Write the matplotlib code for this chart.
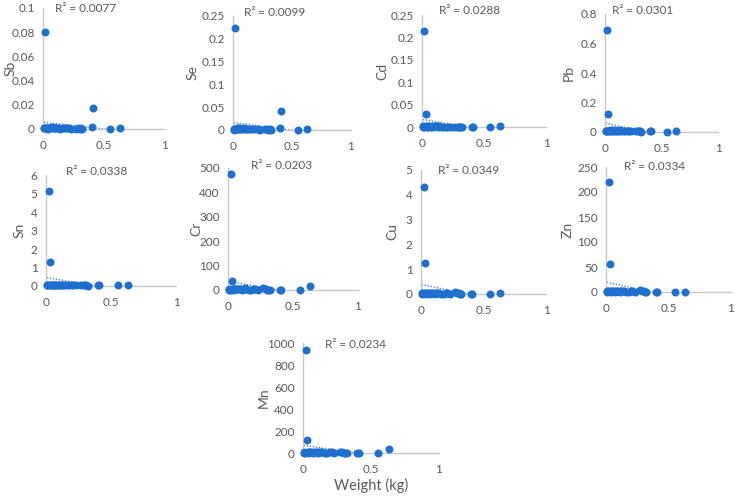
import numpy as np
import matplotlib
matplotlib.use("Agg")
import matplotlib.pyplot as plt
from matplotlib.ticker import FuncFormatter, MultipleLocator

plt.rcParams['font.family'] = ['Lato', 'DejaVu Sans']

# ---- data ----
weight = [0.005, 0.01, 0.015, 0.02, 0.03, 0.035, 0.04, 0.045, 0.05, 0.06, 0.07, 0.08,
          0.09, 0.10, 0.11, 0.12, 0.13, 0.14, 0.16, 0.18, 0.20, 0.21, 0.23, 0.27,
          0.29, 0.30, 0.31, 0.32, 0.40, 0.41, 0.55, 0.63]

Sb = [0.0005, 0.001, 0.0008, 0.080, 0.0006, 0.0012, 0.0004, 0.0009, 0.0011, 0.0007, 0.0013, 0.0005,
      0.0008, 0.0010, 0.0006, 0.0009, 0.0011, 0.0004, 0.0007, 0.0005, 0.0008, 0.0006, 0.0004, 0.0003,
      0.0005, 0.0004, 0.0006, 0.0003, 0.0015, 0.017, 0.0003, 0.0006]
Se = [0.001, 0.002, 0.0015, 0.223, 0.003, 0.004, 0.002, 0.0035, 0.003, 0.004, 0.0025, 0.003,
      0.004, 0.002, 0.003, 0.0025, 0.002, 0.003, 0.0015, 0.002, 0.002, 0.0015, 0.001, 0.002,
      0.0015, 0.001, 0.002, 0.001, 0.004, 0.042, 0.001, 0.0015]
Cd = [0.001, 0.0015, 0.001, 0.215, 0.030, 0.002, 0.001, 0.0015, 0.001, 0.002, 0.001, 0.0015,
      0.001, 0.0012, 0.002, 0.0015, 0.001, 0.002, 0.001, 0.0008, 0.001, 0.0009, 0.0008, 0.001,
      0.0008, 0.0006, 0.0008, 0.0005, 0.001, 0.0008, 0.0007, 0.002]
Pb = [0.005, 0.008, 0.006, 0.69, 0.12, 0.01, 0.006, 0.012, 0.008, 0.015, 0.006, 0.01,
      0.012, 0.008, 0.006, 0.01, 0.014, 0.008, 0.006, 0.004, 0.008, 0.006, 0.004, 0.01,
      0.008, 0.005, 0.004, 0.003, 0.004, 0.004, 0.003, 0.01]
Sn = [0.05, 0.08, 0.04, 5.15, 1.30, 0.06, 0.03, 0.07, 0.05, 0.08, 0.04, 0.06,
      0.07, 0.05, 0.04, 0.06, 0.08, 0.05, 0.04, 0.03, 0.05, 0.04, 0.03, 0.06,
      0.05, 0.04, 0.03, 0.02, 0.03, 0.04, 0.03, 0.05]
Cr = [2.0, 3.0, 1.5, 475.0, 38.0, 4.0, 2.0, 5.0, 3.0, 6.0, 2.5, 4.0,
      5.0, 3.0, 2.0, 4.0, 7.0, 3.0, 2.0, 1.5, 4.0, 3.0, 2.0, 8.0,
      3.0, 2.0, 1.5, 1.0, 1.0, 1.0, 0.5, 18.0]
Cu = [0.02, 0.04, 0.03, 4.30, 1.25, 0.03, 0.02, 0.04, 0.03, 0.05, 0.02, 0.03,
      0.04, 0.03, 0.02, 0.04, 0.05, 0.03, 0.02, 0.02, 0.05, 0.03, 0.02, 0.10,
      0.05, 0.03, 0.02, 0.01, 0.01, 0.01, 0.02, 0.03]
Zn = [1.0, 2.0, 1.5, 220.0, 57.0, 2.0, 1.0, 2.5, 1.5, 3.0, 1.0, 2.0,
      2.5, 1.5, 1.0, 2.0, 3.0, 1.5, 1.0, 1.0, 2.0, 1.5, 1.0, 5.0,
      2.5, 1.5, 1.0, 0.5, 0.5, 0.5, 0.5, 0.5]
Mn = [3.0, 5.0, 4.0, 935.0, 120.0, 6.0, 3.0, 8.0, 5.0, 9.0, 4.0, 6.0,
      7.0, 5.0, 4.0, 6.0, 10.0, 5.0, 4.0, 3.0, 6.0, 5.0, 3.0, 8.0,
      5.0, 4.0, 3.0, 2.0, 2.0, 2.0, 1.0, 35.0]

r2_labels = {"Sb": "0.0077", "Se": "0.0099", "Cd": "0.0288", "Pb": "0.0301",
             "Sn": "0.0338", "Cr": "0.0203", "Cu": "0.0349", "Zn": "0.0334", "Mn": "0.0234"}
series = {"Sb": Sb, "Se": Se, "Cd": Cd, "Pb": Pb, "Sn": Sn, "Cr": Cr, "Cu": Cu, "Zn": Zn, "Mn": Mn}
ymax = {"Sb": 0.1, "Se": 0.25, "Cd": 0.25, "Pb": 0.8, "Sn": 6, "Cr": 500, "Cu": 5, "Zn": 250, "Mn": 1000}
ystep = {"Sb": 0.02, "Se": 0.05, "Cd": 0.05, "Pb": 0.2, "Sn": 1, "Cr": 100, "Cu": 1, "Zn": 50, "Mn": 200}

# ---- layout (pixel boxes: left, top, right, bottom) ----
W, H = 739, 496
boxes = {"Sb": (43, 8, 165, 129), "Se": (233, 16, 351, 130), "Cd": (422, 15, 546, 127),
         "Pb": (605, 14, 718, 132), "Sn": (46, 175, 176, 286), "Cr": (228, 168, 358, 290),
         "Cu": (421, 170, 546, 294), "Zn": (606, 167, 731, 292), "Mn": (303, 343, 439, 453)}
ylab_x = {"Sb": 17, "Se": 199, "Cd": 388, "Pb": 575, "Sn": 26, "Cr": 202, "Cu": 398,
          "Zn": 574, "Mn": 270}
r2_pos = {"Sb": (0.10, 1.00), "Se": (0.09, 1.03), "Cd": (0.14, 1.04), "Pb": (0.06, 1.03),
          "Sn": (0.15, 1.03), "Cr": (0.18, 1.02), "Cu": (0.14, 1.00), "Zn": (0.14, 1.00),
          "Mn": (0.16, 0.99)}

blue = '#1f6fcf'
txt = '#595959'
axcol = '#c8c8c8'

fig = plt.figure(figsize=(W / 100, H / 100), dpi=100)
fig.patch.set_facecolor('white')

fmt = FuncFormatter(lambda v, p: f"{v:g}")
x = np.array(weight)
for name, vals in series.items():
    l, t, r, b = boxes[name]
    ax = fig.add_axes([l / W, 1 - b / H, (r - l) / W, (b - t) / H])
    y = np.array(vals)
    ax.scatter(x, y, s=33, color=blue, zorder=3, clip_on=False, linewidths=0)
    m, c = np.polyfit(x, y, 1)
    xs = np.linspace(x.min(), x.max(), 100)
    ax.plot(xs, m * xs + c, linestyle=(0, (1, 1.2)), color=blue, lw=1.0, zorder=2, alpha=0.85)
    ax.set_xlim(0, 1)
    ax.set_ylim(0, ymax[name])
    ax.xaxis.set_major_locator(MultipleLocator(0.5))
    ax.yaxis.set_major_locator(MultipleLocator(ystep[name]))
    ax.xaxis.set_major_formatter(fmt)
    ax.yaxis.set_major_formatter(fmt)
    for s in ('top', 'right'):
        ax.spines[s].set_visible(False)
    for s in ('left', 'bottom'):
        ax.spines[s].set_color(axcol)
        ax.spines[s].set_linewidth(1)
    ax.tick_params(axis='y', length=0, labelsize=8.5, labelcolor=txt, pad=6)
    ax.tick_params(axis='x', length=0, labelsize=8.5, labelcolor=txt, pad=8)
    ax.set_facecolor('none')
    ax.set_ylabel(name, fontsize=10, color=txt)
    ax.yaxis.set_label_coords((ylab_x[name] - l) / (r - l), 0.5)
    px, py = r2_pos[name]
    ax.text(px, py, "R² = " + r2_labels[name], transform=ax.transAxes, fontsize=8.5,
            color=txt, va='center', ha='left')
    if name == "Mn":
        ax.set_xlabel("Weight (kg)", fontsize=10.5, color=txt)
        ax.xaxis.set_label_coords(0.5, (b - 478) / (b - t))

fig.savefig("out.png", dpi=100)
